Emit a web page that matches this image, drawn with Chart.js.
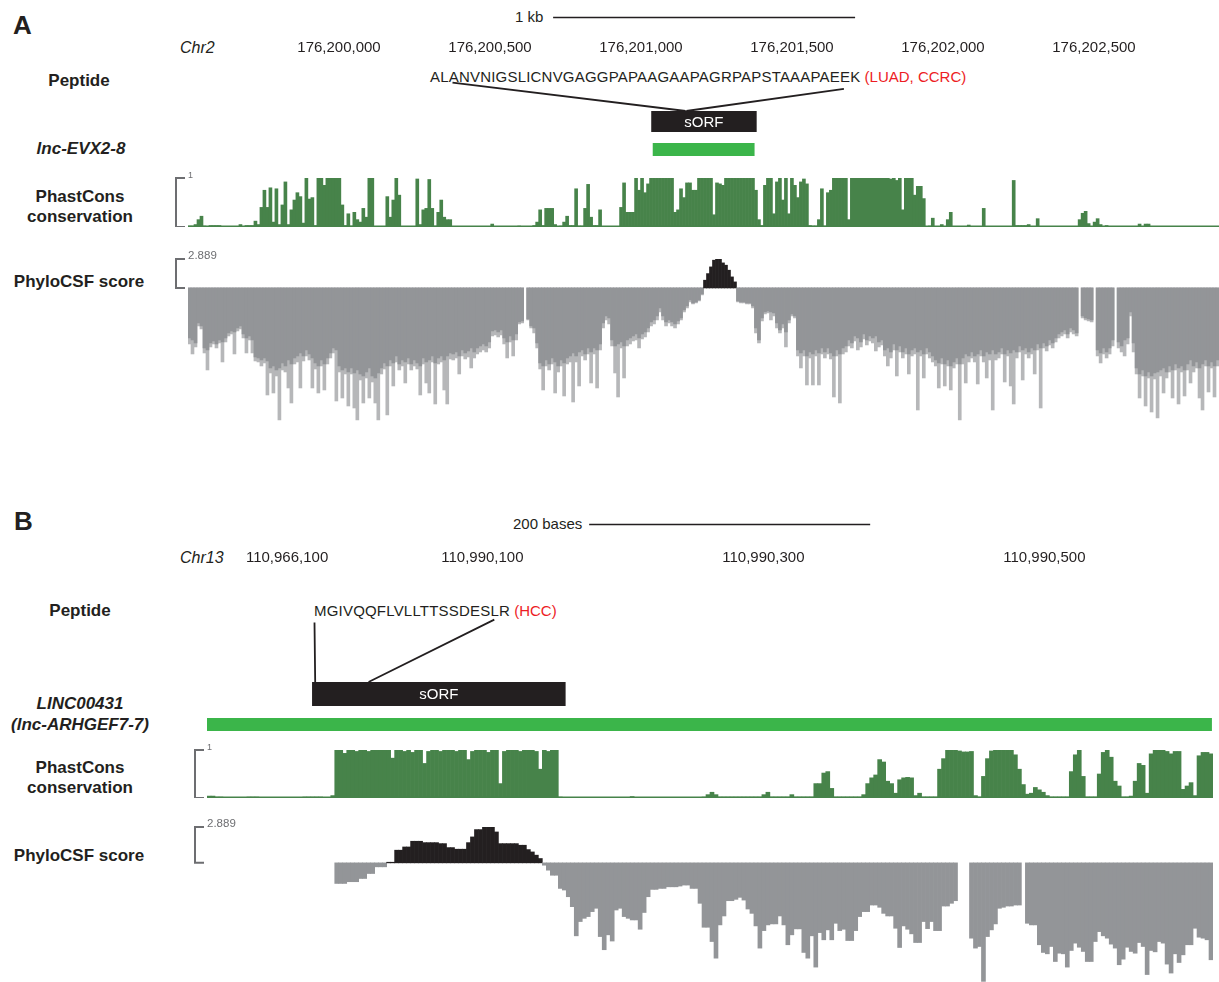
<!DOCTYPE html>
<html>
<head>
<meta charset="utf-8">
<script src="https://cdn.jsdelivr.net/npm/chart.js@4.4.1/dist/chart.umd.min.js"></script>
<style>
body{margin:0;width:1219px;height:982px;overflow:hidden;background:#fff;position:relative;
  font-family:"Liberation Sans",Arial,sans-serif;color:#231f20}
.t{position:absolute;white-space:nowrap;font-size:15px;line-height:18px}
.pep{letter-spacing:0.2px}
.lab{position:absolute;width:170px;text-align:center;white-space:nowrap;font-weight:bold;font-size:17px;line-height:20px}
.big{position:absolute;font-weight:bold;font-size:26px;line-height:30px}
.red{color:#ed1c24}
canvas{position:absolute}
</style>
</head>
<body>
<!-- panel A labels -->
<div class="big" style="left:13px;top:10px">A</div>
<div class="t" style="left:515px;top:8px">1 kb</div>
<div class="t" style="left:180px;top:39px;font-style:italic;font-size:16px">Chr2</div>
<div class="lab" style="left:-6px;top:71px">Peptide</div>
<div class="t" style="left:430px;top:67.5px"><span id="pepA" class="pep">ALANVNIGSLICNVGAGGPAPAAGAAPAGRPAPSTAAAPAEEK</span> <span class="red">(LUAD, CCRC)</span></div>
<div class="lab" style="left:-4px;top:139px;font-style:italic">lnc-EVX2-8</div>
<div class="lab" style="left:-5px;top:187px">PhastCons<br>conservation</div>
<div class="lab" style="left:-6px;top:272px">PhyloCSF score</div>

<!-- panel B labels -->
<div class="big" style="left:14px;top:506px">B</div>
<div class="t" style="left:513px;top:515px">200 bases</div>
<div class="t" style="left:180px;top:549px;font-style:italic;font-size:16px">Chr13</div>
<div class="lab" style="left:-5px;top:601px">Peptide</div>
<div class="t" style="left:314px;top:602px"><span id="pepB" class="pep">MGIVQQFLVLLTTSSDESLR</span> <span class="red">(HCC)</span></div>
<div class="lab" style="left:-5px;top:693px;font-style:italic;line-height:21px">LINC00431<br>(lnc-ARHGEF7-7)</div>
<div class="lab" style="left:-5px;top:758px">PhastCons<br>conservation</div>
<div class="lab" style="left:-6px;top:846px">PhyloCSF score</div>

<script>
// ---- panel A: chr2 ----
const regionA = [176199500, 176202914];
const ticksA = [176200000, 176200500, 176201000, 176201500, 176202000, 176202500];
const tickLabelsA = ['176,200,000', '176,200,500', '176,201,000', '176,201,500', '176,202,000', '176,202,500'];
const scaleBarA = [176200709, 1000];
const sorfA = [176201035, 176201382];
const transcriptA = [176201040, 176201375];
const peptideA = [176201148, 176201150];

const phastA = [
  .02,.02,.05,.15,.22,.02,.01,.03,.03,.03,.03,.01,.01,.01,.01,.01,.01,.05,.01,.03,.03,.03,.12,.05,
  .4,.75,.4,.8,.1,.78,.05,.45,.92,.05,.35,.55,.7,.62,.08,1,.57,.6,.03,1,1,.85,1,1,1,1,1,.45,.03,.27,.02,.3,.15,.1,
  .38,.2,1,1,.01,.01,.01,.01,.62,.2,.55,1,.65,.01,.01,.01,.01,.01,.98,.05,.35,.38,.97,.38,.02,.3,.55,.2,.15,.15,
  .01,.01,.01,.01,.01,.01,.01,.01,.01,.01,.01,.01,.01,.06,.01,.01,.01,.01,.01,.01,.01,.01,.02,.01,.01,.01,.01,
  .03,.1,.35,.03,.38,.38,.38,.05,.01,.02,.1,.22,.03,.03,.78,.02,.02,.38,.87,.2,.03,.03,.35,
  .01,.01,.01,.01,.01,.01,.4,.9,.3,.3,.3,1,.75,1,.7,.88,1,1,1,1,1,1,1,1,.3,.35,.78,.6,.9,.9,
  .75,.75,1,1,1,1,1,.25,.9,.88,.85,1,1,1,1,1,1,1,1,1,1,
  .75,.15,.03,.85,1,1,.27,.92,1,.55,1,.27,1,.85,.6,.92,.98,.88,.03,.02,.02,.15,.78,.02,.7,.75,1,1,1,1,1,.15,
  1,1,1,1,1,1,1,1,1,1,1,1,1,.98,1,.95,1,.35,1,1,1,.65,.83,.83,.58,.01,.02,.18,.01,.01,.05,.01,.15,.3,
  .01,.01,.01,.01,.01,.04,.01,.01,.01,.01,.38,.01,.01,.01,.01,.01,.01,.01,.01,.01,
  .95,.03,.03,.03,.03,.05,.01,.01,.17,.01,
  .01,.01,.01,.01,.01,.01,.01,.01,.01,.01,.01,.01,.15,.28,.32,.07,.01,.1,.17,.05,.01,.03,
  .01,.01,.01,.01,.01,.01,.01,.01,.01,.01,.06,.01,.06,.06,
  .01,.01,.01,.01,.01,.01,.01,.01,.01,.01,.01,.01,.01,.01,.01,.01,.01,.01,.01,.01,.01,.01,.01
];

const phyloMeanA = [
  -5,-5.2,-5.5,-3.5,-3.8,-6,-6.2,-5.5,-5.3,-5.6,-5.2,-5.4,-5,-4.5,-4.3,-4.4,-4,-3.8,-4.6,-5,-4.8,-5.2,-6.9,-7,
  -7.2,-7,-7.3,-8,-7.8,-8.2,-8,-7.5,-7.8,-7.2,-7.6,-7,-6.8,-6.5,-6.8,-6.2,-6.6,-7,-7.5,-7.8,
  -7.2,-7.6,-7,-6.5,-6,-6.2,-7.8,-8.2,-8,-8.4,-8,-8.5,-8.2,-8.6,
  -8.8,-8.4,-8,-8.8,-9,-8.5,-8,-7.5,-7.8,-7.2,-7.5,-6.8,-7.6,-7.2,-7.4,-7,-7.6,-7.2,-7.5,-7.8,
  -7,-7.4,-7.2,-6.8,-7.5,-7,-6.8,-7.2,-6.8,-6.5,
  -6.6,-6.4,-6.8,-6.2,-6.5,-6.3,-6,-6.4,-6,-5.8,-5.6,-5.8,-5.4,-4.3,-4.2,-4.4,-4.2,-5,-5.4,-4.8,
  -5.2,-4.6,-3.4,-3.3,null,-3.1,-3.8,-4,-5.5,-7.5,-7.8,-7.2,-7.6,-7,-7.4,-7.8,-7.2,-7.5,-7,-6.8,
  -6.5,-6.8,-6.4,-6.2,-6.6,-6,-6.4,-6,-6.2,-5.6,
  -3.5,-2.8,-3,-5.2,-5.8,-5.6,-5.4,-5.8,-5.2,-5,-4.8,-4.6,-5,-4.6,-4.4,-4,-3.4,-3.2,-2.8,-2,
  -2.8,-3.4,-3.2,-3.4,-3.6,-3.3,-3,-2.2,-1.8,-1.2,
  -1.5,-1.4,-1.2,-0.6,0.77,1.43,2.1,2.77,2.87,2.87,2.5,2.27,1.77,1.1,0.6,-1.3,-1.4,-1.4,-1.5,-1.5,
  -1.8,-4,-5.2,-3,-2.4,-2.3,-2.4,-2.5,-3.5,-4.2,-3.6,-4.4,-3.2,-2.6,-2.8,-6.2,-6.5,-6.2,-6.8,-6.4,
  -6.6,-6.2,-6.5,-6,-6.4,-6,-6.5,-6.8,-6.2,-6.6,-6,-5.8,-5.2,
  -5.5,-4.8,-5,-5.4,-4.6,-5.2,-4.8,-5,-4.8,-5.4,-5.2,-6.2,-6,-6.4,-5.6,-6.2,-5.8,-6.4,-6,-6.6,-6.2,
  -6,-6.4,-6.2,-6.6,-6,-6.4,-6.8,-7.2,-7.5,-7,-7.6,-7.2,-7.8,-7.4,-7,-7.6,-7,-6.6,-6.8,-6.4,
  -6.8,-6.6,-6.2,-6.8,-6.4,-6.6,-6.2,-6.6,-6.4,-6,-6.6,-6.2,-6.5,-6.2,-6.4,-5.8,-6.2,-6,-6.4,-6,
  -6.2,-5.6,-6,
  -5.5,-5.8,-5.2,-5.5,-5,-4.6,-4.4,-4.2,-4.6,-4,-4.2,-4.5,null,-2.8,-3,-3.1,-3.2,null,-6.2,-6.5,-6,
  -6.4,-6,-5.2,null,-5.4,-5.8,-5.2,-5,-2.4,-5.5,-8,-8.6,-8.2,-8.8,-8.4,-8.8,-8.5,-8.4,-8.2,-8,
  -8.4,-7.8,-8.2,-7.6,-8,-7.8,-8.2,-7.6,-7.2,-7.8,-7.4,-8,-7.6,-7.2,-7.8,-7.4,-7.8,-7.2
];

const phyloMinA = [
  -5.6,-6.6,-5.9,-3.8,-4.1,-6.5,-8.2,-5.9,-5.6,-6,-5.5,-7.4,-5.4,-4.8,-4.6,-6.6,-4.3,-4.1,-5,-6.5,-5.2,-6.5,-7.3,-7.4,
  -7.8,-7.5,-10.7,-8.5,-10.5,-8.8,-13.2,-8.2,-8.4,-10,-11.5,-7.6,-7.4,-10,-7.3,-6.8,-7.2,-10,-8.1,-10.5,
  -7.8,-10.2,-7.6,-7,-6.5,-11.3,-8.4,-11,-8.6,-11.8,-8.6,-12,-13.2,-9.2,
  -11.5,-9,-11,-9.4,-11.5,-13.2,-8.6,-8.1,-12.7,-7.8,-9.8,-7.4,-8.2,-7.8,-9.5,-7.6,-8.2,-7.8,-8.1,-10.7,
  -7.6,-9.5,-10.5,-7.4,-11.6,-7.6,-7.4,-10.2,-11.6,-7.1,
  -7.2,-7,-8.6,-6.8,-7.1,-6.9,-8,-7,-6.6,-6.4,-6.2,-6.4,-6,-4.8,-4.7,-4.9,-4.7,-5.6,-7,-5.4,
  -6.8,-5.2,-3.6,-3.5,null,-3.2,-4,-4.5,-6,-8.1,-10.2,-7.8,-8.2,-7.6,-10.5,-8.4,-7.8,-10.8,-7.6,-7.4,
  -11.4,-7.4,-9.8,-6.8,-7.2,-6.6,-9.5,-6.6,-10,-6.2,
  -4,-3.2,-3.6,-5.8,-8.5,-10.9,-6,-9,-5.8,-5.6,-5.3,-5.2,-6,-5.1,-4.9,-4.4,-3.8,-3.6,-3.2,-2.4,
  -3.2,-3.8,-3.5,-3.8,-4,-3.6,-3.2,-2.4,-2,-1.4,
  -1.6,-1.5,-1.3,-0.7,0,0,0,0,0,0,0,0,0,0,0,-1.4,-1.5,-1.5,-1.6,-1.6,
  -2,-4.5,-5.5,-3.3,-2.6,-2.5,-3.2,-2.8,-4,-4.5,-4,-5.9,-3.5,-2.8,-3,-6.8,-8,-6.8,-9.7,-7,
  -9.7,-6.8,-9.7,-6.6,-7,-6.6,-7.1,-10.9,-6.8,-11.5,-6.6,-6.4,-5.8,
  -6,-5.3,-6.2,-5.9,-5.1,-5.7,-5.3,-5.5,-6.3,-5.9,-5.7,-6.8,-7.8,-7,-6.2,-8.8,-6.4,-7,-6.6,-8.6,-6.8,
  -6.6,-12.2,-6.8,-9,-6.6,-7,-7.4,-7.8,-10,-7.6,-9.8,-7.8,-10.2,-8,-7.6,-13.2,-7.6,-9.5,-7.4,-7,
  -7.4,-9.6,-6.8,-7.4,-9,-7.2,-12.2,-7.2,-7,-6.6,-9.4,-6.8,-9.8,-11.6,-7,-6.4,-9.2,-6.6,-7,-6.6,
  -8.6,-6.2,-12,
  -6,-6.3,-5.7,-6,-5.4,-5,-4.8,-4.6,-5,-4.4,-4.6,-4.8,null,-3,-3.2,-3.3,-3.4,null,-6.8,-7.5,-6.6,
  -7,-6.6,-5.8,null,-6,-6.4,-6.8,-5.6,-2.8,-6.4,-8.6,-11,-8.8,-11.8,-9,-12.4,-9.1,-13,-8.8,-10.5,
  -9,-8.4,-11,-8.2,-11.6,-8.4,-10.8,-8.2,-9.5,-8.4,-8,-11,-12.2,-7.8,-10.4,-8,-10.9,-7.8
];

// ---- panel B: chr13 ----
const regionB = [110989904, 110990620];
const ticksB = [110989961, 110990100, 110990300, 110990500];
const tickLabelsB = ['110,966,100', '110,990,100', '110,990,300', '110,990,500'];
const scaleBarB = [110990176, 200];
const sorfB = [110989979, 110990159];
const transcriptB = [110989904, 110990619];
const peptideB = [110989981, 110990019];

const phastB = [
  .04,.04,.02,.02,.005,.005,.005,.005,.005,.005,.02,.02,.02,
  .005,.005,.005,.005,.005,.005,.005,.005,.005,.005,.005,.02,.02,.02,.02,.02,.01,.01,.05,
  1,1,.93,1,1,.97,1,1,.97,1,1,1,1,1,.83,1,1,.97,1,.95,1,1,.72,.97,1,1,.97,1,1,1,
  .97,1,1,.8,.97,1,1,1,.95,1,1,.3,.97,1,1,1,.97,1,1,1,.97,.6,1,.97,1,1,
  .02,.01,.01,.01,.01,.01,.01,.01,.01,.01,.01,.01,.01,.01,.01,.01,.01,.01,
  .03,.01,.01,.01,.01,.01,.01,.01,.01,.01,.01,.01,.01,.01,.01,.01,.01,.01,
  .02,.07,.12,.07,.02,.02,.02,.02,.02,.02,.02,.02,.02,.02,.02,.07,.12,.02,.02,.02,.02,.02,
  .07,.02,.02,.02,.02,.02,.3,.3,.52,.55,.2,
  .02,.02,.02,.02,.02,.02,.02,.07,.3,.42,.48,.8,.75,.35,.3,.1,.38,.42,.43,.42,.05,.1,
  .02,.02,.02,.02,.6,.82,1,1,1,.98,.96,.96,.97,.05,.02,.45,.82,.98,1,1,1,1,1,
  .9,.6,.28,.08,.1,.22,.17,.12,.05,.02,.02,.02,.02,.02,.55,.9,1,.45,.02,.02,.02,.5,.95,1,.85,
  .35,.25,.02,.02,.04,.35,.72,.68,.1,.92,1,1,1,.97,.92,.97,.97,.18,.25,.32,.05,.88,.95,.95,.92
];

const phyloB = [
  null,null,null,null,null,null,null,null,null,null,null,null,null,null,null,null,
  null,null,null,null,null,null,null,null,null,null,null,null,null,null,null,null,
  -1.66,-1.66,-1.66,-1.52,-1.52,-1.52,-1.26,-1.26,-0.86,-0.86,
  -0.32,-0.32,-0.32,0.05,0.05,1.02,1.02,1.28,1.28,1.74,
  1.74,1.74,1.63,1.63,1.63,1.63,1.55,1.55,1.23,1.23,
  1.1,1.1,1.1,1.63,2.09,2.68,2.68,2.89,2.89,2.89,
  2.49,1.55,1.55,1.55,1.55,1.55,1.42,1.42,1.07,0.88,
  0.62,0.35,-0.19,-0.59,-1,-1,-2.06,-2.19,-2.73,-3.53,
  -5.88,-4.73,-4.47,-4.33,-3.93,-3.66,-5.94,-7,-5.8,-6.3,
  -3.8,-3.66,-4.33,-4.47,-4.6,-4.6,-5.35,-4,-2.73,-2.14,
  -2.14,-2.06,-2.06,-1.93,-1.93,-1.93,-1.87,-1.79,-1.79,-2.06,
  -2.06,-3.26,-5.19,-5.19,-6.34,-7.68,-5,-4.28,-3.05,-3.05,
  -2.94,-2.78,-3,-3.72,-4.07,-5.08,-6.87,-5.46,-5,-4.92,
  -4.92,-4.28,-5,-6.6,-5.8,-5.32,-5.32,-7.22,-7.68,-5.88,
  -8.4,-5.62,-6.2,-5.4,-6.2,-4.87,-5.46,-5.35,-6.26,-6.26,
  -5.46,-4.33,-3.93,-3.93,-3.4,-3.4,-3.58,-4.07,-4.28,-4.28,
  -5.27,-6.82,-5.08,-5.35,-5.72,-6.42,-6.42,-4.73,-5.3,-4.73,
  -5.46,-5.46,-3.48,-3.48,-3.26,-3.05,null,null,null,-6.07,
  -6.87,-6.74,-9.55,-5.94,-5.4,-4.92,-3.66,-3.58,-3.48,-3.48,
  -3.4,-3.4,null,-4.87,-5,-5,-6.6,-7.22,-7.33,-6.74,
  -7.95,-7.28,-7.33,-8.4,-7.06,-6.47,-6.8,-7.14,-7.95,-7.95,
  -6.34,-5.54,-5.88,-6.07,-6.55,-6.87,-8.21,-7.76,-6.8,-7.14,
  -7.28,-6.42,-6.74,-9,-7.06,-7.17,-6.34,-6.47,-8.16,-8.88,
  -7.33,-8.03,-7.41,-6.6,-6.6,-5.27,-5.99,-6.07,-6.2,-7.81
];

// ---- drawing ----
const INK = '#231f20', GREEN = '#47834a', TX_GREEN = '#3bb54a', GRAY = '#939598', LIGHT = '#b6b7b9', AXIS = '#6d6e71';
const FONT = '"Liberation Sans", Arial, sans-serif';
Chart.defaults.font.family = FONT;
Chart.defaults.color = INK;

const panelA = { left: 188, right: 1219, region: regionA };
const panelB = { left: 207, right: 1213, region: regionB };
const PAD_L = 14;

function canvasAt(p, top, height) {
  const c = document.createElement('canvas');
  const w = p.right - p.left + PAD_L;
  c.width = w; c.height = height;
  c.style.left = (p.left - PAD_L) + 'px';
  c.style.top = top + 'px';
  c.style.width = w + 'px';
  c.style.height = height + 'px';
  document.body.appendChild(c);
  return c;
}

function bins(region, values) {
  const step = (region[1] - region[0]) / values.length;
  return values.map((v, i) => ({ x: region[0] + (i + 0.5) * step, y: v }));
}

function baseOptions(p, padTop, extra) {
  return Object.assign({
    responsive: false, animation: false, devicePixelRatio: 1, events: [],
    layout: { padding: { left: PAD_L, top: padTop, right: 0, bottom: 0 } },
    plugins: { legend: { display: false }, tooltip: { enabled: false } }
  }, extra);
}

const bracketPlugin = {
  id: 'bracket',
  afterDraw(chart, args, o) {
    if (!o || !o.label) return;
    const { ctx, chartArea: a, scales: { y } } = chart;
    const yTop = y.getPixelForValue(o.top), y0 = y.getPixelForValue(0);
    ctx.save();
    if (o.baseline) {
      ctx.fillStyle = o.baseline;
      ctx.fillRect(a.left, y0 - 1.5, a.right - a.left, 1.5);
    }
    ctx.strokeStyle = AXIS; ctx.lineWidth = 2;
    ctx.beginPath();
    ctx.moveTo(a.left - 3, yTop); ctx.lineTo(a.left - 12, yTop);
    ctx.lineTo(a.left - 12, y0); ctx.lineTo(a.left - 3, y0);
    ctx.stroke();
    ctx.fillStyle = AXIS;
    ctx.font = o.size + 'px ' + FONT;
    ctx.textBaseline = 'alphabetic';
    ctx.fillText(o.label, a.left, yTop - 0.5);
    ctx.restore();
  }
};

const boxPlugin = {
  id: 'box',
  afterDatasetsDraw(chart, args, o) {
    if (!o || !o.label) return;
    const { ctx, chartArea, scales: { x } } = chart;
    const bar = chart.getDatasetMeta(0).data[0];
    ctx.save();
    ctx.fillStyle = '#fff';
    ctx.font = '15px ' + FONT;
    ctx.textAlign = 'center'; ctx.textBaseline = 'middle';
    ctx.fillText(o.label, (bar.x + bar.base) / 2, bar.y + 1);
    if (o.text) {
      const t = document.getElementById(o.text).getBoundingClientRect();
      const c = chart.canvas.getBoundingClientRect();
      ctx.strokeStyle = INK; ctx.lineWidth = 1.8;
      ctx.beginPath();
      ctx.moveTo(t.left - c.left + o.inset[0], t.bottom - c.top + o.dy[0]);
      ctx.lineTo(x.getPixelForValue(o.span[0]), chartArea.top);
      ctx.moveTo(t.right - c.left - o.inset[1], t.bottom - c.top + o.dy[1]);
      ctx.lineTo(x.getPixelForValue(o.span[1]), chartArea.top);
      ctx.stroke();
    }
    ctx.restore();
  }
};

function xScale(p) {
  return { type: 'linear', min: p.region[0], max: p.region[1], display: false, offset: false };
}

function scaleBar(p, top, bar) {
  new Chart(canvasAt(p, top, 11), {
    type: 'scatter',
    data: { datasets: [{ data: [{ x: bar[0], y: 0 }, { x: bar[0] + bar[1], y: 0 }],
      showLine: true, borderColor: INK, borderWidth: 1.3, pointRadius: 0 }] },
    options: baseOptions(p, 0, { scales: { x: xScale(p), y: { min: -1, max: 1, display: false } } })
  });
}

// tick labels sit 9px above the canvas bottom (18px label row, no tick marks)
function coordAxis(p, top, ticks, labels) {
  new Chart(canvasAt(p, top, 44), {
    type: 'scatter',
    data: { datasets: [] },
    options: baseOptions(p, 0, {
      scales: {
        x: { type: 'linear', min: p.region[0], max: p.region[1], offset: false, position: 'bottom',
          grid: { display: false, drawTicks: false }, border: { display: false },
          afterBuildTicks: s => { s.ticks = ticks.map(v => ({ value: v })); },
          ticks: { autoSkip: false, maxRotation: 0, padding: 0, color: INK, font: { size: 15 },
            callback: (v, i) => labels[i] } },
        y: { display: false }
      }
    })
  });
}

function featureBar(p, top, height, padTop, span, color, box) {
  new Chart(canvasAt(p, top, height), {
    type: 'bar',
    data: { labels: ['f'], datasets: [{ data: [span], backgroundColor: color, borderWidth: 0,
      barPercentage: 1, categoryPercentage: 1 }] },
    options: baseOptions(p, padTop, {
      indexAxis: 'y',
      scales: { x: xScale(p), y: { display: false } },
      plugins: { legend: { display: false }, tooltip: { enabled: false }, box: box || {} }
    }),
    plugins: [boxPlugin]
  });
}

function track(p, top, height, padTop, range, datasets, bracket) {
  new Chart(canvasAt(p, top, height), {
    type: 'bar',
    data: { datasets: datasets.map(d => Object.assign({ barPercentage: 1, categoryPercentage: 1,
      borderWidth: 0, grouped: false }, d)) },
    options: baseOptions(p, padTop, {
      scales: { x: xScale(p), y: { min: range[0], max: range[1], display: false } },
      plugins: { legend: { display: false }, tooltip: { enabled: false }, bracket }
    }),
    plugins: [bracketPlugin]
  });
}

const signColor = c => (c.raw && c.raw.y > 0 ? INK : GRAY);

// panel A
scaleBar(panelA, 12, scaleBarA);
coordAxis(panelA, 13, ticksA, tickLabelsA);
featureBar(panelA, 78, 54, 33, sorfA, INK,
  { label: 'sORF', text: 'pepA', span: peptideA, inset: [22.5, 16.5], dy: [-1.9, 4.4] });
featureBar(panelA, 143, 13, 0, transcriptA, TX_GREEN);
track(panelA, 168, 59, 10, [0, 1],
  [{ data: bins(regionA, phastA), backgroundColor: GREEN }],
  { label: '1', top: 1, size: 9, baseline: GREEN });
track(panelA, 249, 172, 10, [-13.3, 2.889],
  [{ data: bins(regionA, phyloMeanA), backgroundColor: signColor, order: 0 },
   { data: bins(regionA, phyloMinA), backgroundColor: LIGHT, order: 1 }],
  { label: '2.889', top: 2.889, size: 11.5 });

// panel B
scaleBar(panelB, 519, scaleBarB);
coordAxis(panelB, 523, ticksB, tickLabelsB);
featureBar(panelB, 612, 94, 70, sorfB, INK,
  { label: 'sORF', text: 'pepB', span: peptideB, inset: [0.5, 15.7], dy: [3.6, 0.6] });
featureBar(panelB, 718, 13, 0, transcriptB, TX_GREEN);
track(panelB, 740, 58, 10, [0, 1],
  [{ data: bins(regionB, phastB), backgroundColor: GREEN }],
  { label: '1', top: 1, size: 9, baseline: GREEN });
track(panelB, 817, 165, 10, [-9.6, 2.889],
  [{ data: bins(regionB, phyloB), backgroundColor: signColor }],
  { label: '2.889', top: 2.889, size: 11.5 });
</script>
</body>
</html>
